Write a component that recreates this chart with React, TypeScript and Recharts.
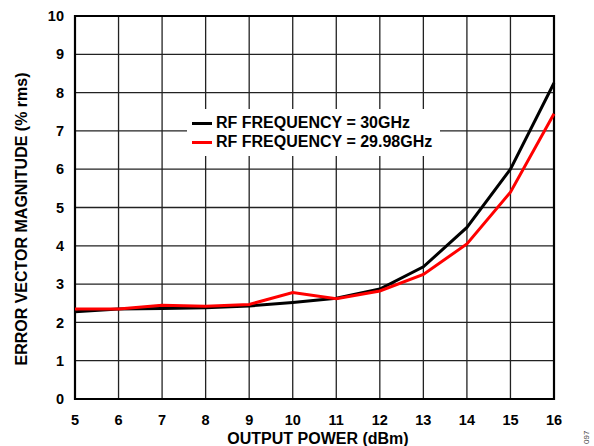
import React from "react";
import { LineChart, Line, XAxis, YAxis, CartesianGrid, Legend, ReferenceArea, Label } from "recharts";

const outputPower = [5, 6, 7, 8, 9, 10, 11, 12, 13, 14, 15, 16];
const evm30GHz = [2.28, 2.35, 2.36, 2.38, 2.43, 2.52, 2.63, 2.87, 3.45, 4.48, 6.0, 8.25];
const evm2998GHz = [2.35, 2.35, 2.45, 2.42, 2.47, 2.78, 2.62, 2.82, 3.25, 4.05, 5.4, 7.45];
const xTicks = [5, 6, 7, 8, 9, 10, 11, 12, 13, 14, 15, 16];
const yTicks = [0, 1, 2, 3, 4, 5, 6, 7, 8, 9, 10];
const seriesNames = ["RF FREQUENCY = 30GHz", "RF FREQUENCY = 29.98GHz"];
const seriesColors = ["#000000", "#ff0000"];

const data = outputPower.map((p, i) => ({ p, a: evm30GHz[i], b: evm2998GHz[i] }));

const FONT = "'Liberation Sans', Arial, sans-serif";

const LegendBox = () => (
  <div style={{ background: "#fff", width: 253, height: 47, position: "relative", fontFamily: FONT }}>
    {seriesNames.map((n, i) => (
      <div key={n} style={{ position: "absolute", left: 0, top: i === 0 ? 4 : 23, height: 20, display: "flex", alignItems: "center" }}>
        <div style={{ width: 20, height: 3, background: seriesColors[i], marginLeft: 5, marginRight: 4 }} />
        <span style={{ fontSize: 16, fontWeight: "bold", color: "#000", whiteSpace: "nowrap", lineHeight: "20px" }}>{n}</span>
      </div>
    ))}
  </div>
);

const Titles = () => (
  <g>
    <text x={318} y={444} textAnchor="middle" fontFamily={FONT} fontWeight="bold" fontSize={16} fill="#000">OUTPUT POWER (dBm)</text>
    <text x={27} y={219} textAnchor="middle" fontFamily={FONT} fontWeight="bold" fontSize={16} fill="#000" transform="rotate(-90 27 219)">ERROR VECTOR MAGNITUDE (% rms)</text>
    <text x={589} y={444} textAnchor="start" fontFamily={FONT} fontSize={8} fill="#444" transform="rotate(-90 589 444)">097</text>
  </g>
);

export default function App() {
  return (
    <div style={{ position: "absolute", left: 0, top: 0, background: "#fff" }}>
      <LineChart width={594} height={446} data={data} margin={{ top: 16, right: 40, bottom: 0, left: 0 }}>
        <CartesianGrid stroke="#222" strokeWidth={1.3} horizontalValues={yTicks} verticalValues={xTicks} />
        <XAxis
          dataKey="p"
          type="number"
          domain={[5, 16]}
          ticks={xTicks}
          height={47}
          axisLine={false}
          tickLine={false}
          tickSize={6}
          tickMargin={10}
          tick={{ fill: "#000", fontSize: 14.5, fontWeight: "bold", fontFamily: FONT }}
          interval={0}
        >
          <Label content={() => <Titles />} />
        </XAxis>
        <YAxis
          type="number"
          domain={[0, 10]}
          ticks={yTicks}
          width={75}
          axisLine={false}
          tickLine={false}
          tickSize={6}
          tickMargin={5}
          tick={{ fill: "#000", fontSize: 14.5, fontWeight: "bold", fontFamily: FONT }}
          interval={0}
        />
        <ReferenceArea x1={5} x2={16} y1={0} y2={10} fill="none" stroke="#000" strokeWidth={2.2} fillOpacity={0} ifOverflow="visible" />
        <Line dataKey="a" stroke={seriesColors[0]} strokeWidth={3} dot={false} isAnimationActive={false} />
        <Line dataKey="b" stroke={seriesColors[1]} strokeWidth={3} dot={false} isAnimationActive={false} />
        <Legend
          layout="horizontal"
          verticalAlign="middle"
          align="center"
          content={() => <LegendBox />}
          wrapperStyle={{ position: "absolute", left: 187, top: 109, width: 253, height: 47 }}
        />
      </LineChart>
    </div>
  );
}
